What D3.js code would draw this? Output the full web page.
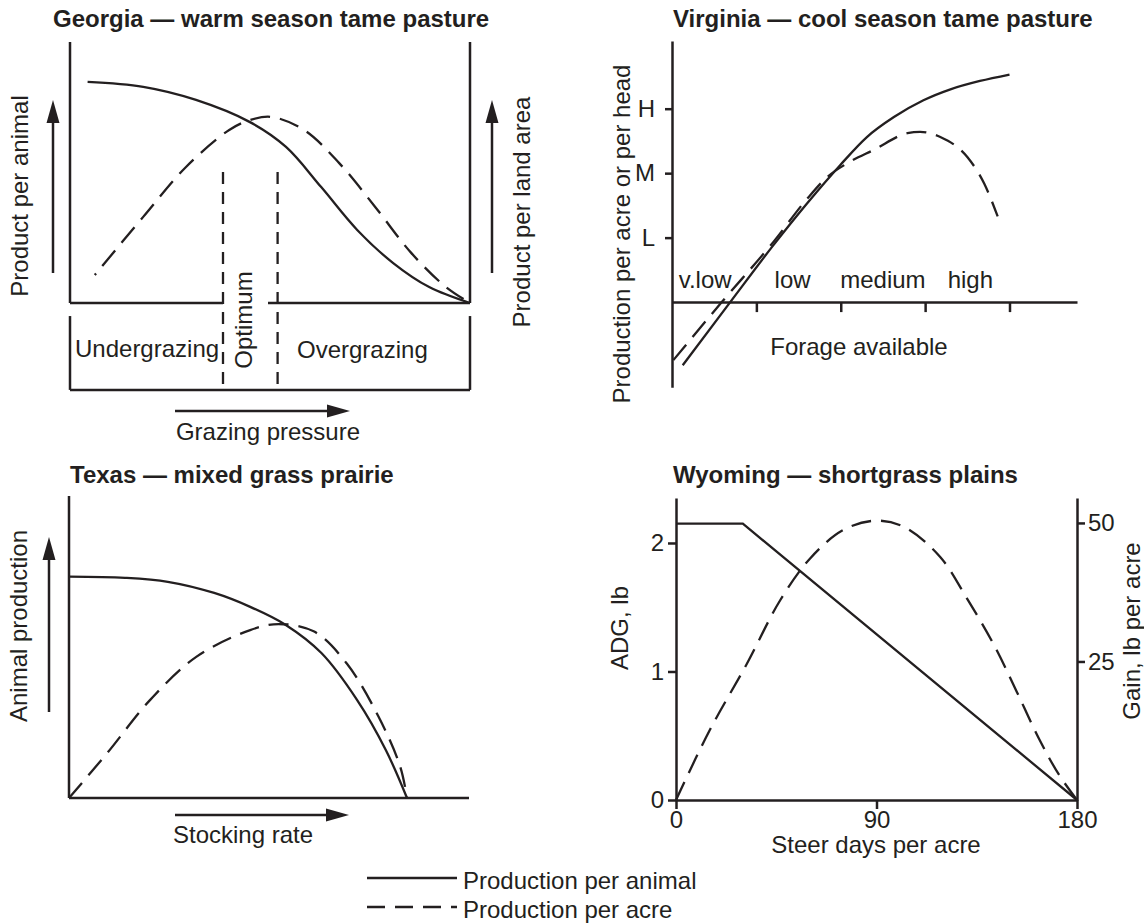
<!DOCTYPE html>
<html>
<head>
<meta charset="utf-8">
<script src="https://cdn.jsdelivr.net/npm/d3@7"></script>
<style>
  body { margin: 0; background: #fff; }
  text { font-family: "Liberation Sans", Arial, Helvetica, sans-serif; fill: #231f20; }
</style>
</head>
<body>
<div id="chart"></div>
<script>
// Four grazing-pressure response diagrams + a shared legend.

// ---- data ------------------------------------------------------------------
// Georgia: relative units 0..100 on both axes
const gaAnimalX = [4.4, 18.3, 31.5, 45, 54, 62.8, 71.8, 80.8, 89.8, 100]
const gaAnimalY = [84.7, 82.8, 77.8, 69.3, 59.8, 44.4, 28, 15.3, 6.1, 0]
const gaLandX   = [6.2, 18.3, 29, 39.8, 45, 50.3, 58.5, 67.3, 76.3, 85.3, 94, 100]
const gaLandY   = [10.7, 33, 52.1, 66.3, 70.1, 71.3, 66.3, 53.6, 36.8, 19.2, 6.1, 0]
const gaOptimum = [38.25, 51.9]         // edges of the optimum band
const gaZones   = ['Undergrazing', 'Optimum', 'Overgrazing']

// Virginia: forage classes 0..4, production levels L=1 M=2 H=3
const vaForageTicks = [1, 2, 3, 4]
const vaCategories  = ['v.low', 'low', 'medium', 'high']
const vaLevels      = ['L', 'M', 'H']
const vaHeadX = [0.127, 0.69, 1.2, 1.6, 1.99, 2.31, 2.63, 2.98, 3.3, 3.65, 4.0]
const vaHeadY = [-0.98, 0, 0.88, 1.53, 2.12, 2.56, 2.87, 3.13, 3.3, 3.43, 3.53]
const vaAcreX = [0.016, 0.59, 1.2, 1.6, 1.84, 2.1, 2.39, 2.79, 2.94, 3.18, 3.5, 3.7, 3.86]
const vaAcreY = [-0.9, 0, 0.93, 1.6, 1.94, 2.17, 2.36, 2.62, 2.64, 2.56, 2.25, 1.84, 1.33]

// Texas: relative units 0..100
const txAnimalX = [0, 14, 24.7, 36.3, 45.3, 54.2, 63.1, 72, 79.2, 84.5]
const txAnimalY = [73.3, 72.9, 71.6, 67.9, 63.3, 57.3, 48, 32.5, 15.9, 0]
const txAcreX   = [0, 9.5, 20.3, 31.9, 45.3, 52.4, 61.3, 69.4, 77.4, 82.8, 84.5]
const txAcreY   = [0, 14.8, 32.5, 46.8, 55.6, 57.6, 55.1, 44.6, 26.9, 10.4, 0]

// Wyoming: steer days per acre, ADG (lb) and gain (lb per acre)
const wyDayTicks  = [0, 90, 180]
const wyAdgTicks  = [0, 1, 2]
const wyGainTicks = [25, 50]
const wyAdgX  = [0, 30, 180]
const wyAdgY  = [2.15, 2.15, 0]
const wyGainX = [0, 15, 31.7, 46.7, 60, 75, 89.3, 102.3, 118.5, 131, 142.7, 153, 163, 172, 180]
const wyGainY = [0, 12.5, 24.5, 36, 43.5, 48.7, 50.4, 49.3, 43.9, 36.1, 28, 19.5, 11, 4.5, 0]

const legendLabels = ['Production per animal', 'Production per acre']

// ---- setup -----------------------------------------------------------------
const W = 1144, H = 923
const INK = '#231f20'
const FS = 24          // font size used for every label
const DASH = '20,10'   // dashed curve pattern

const svg = d3.select('#chart').append('svg').attr('width', W).attr('height', H)
svg.append('rect').attr('width', W).attr('height', H).attr('fill', '#fff')

function path(g, xs, ys, sx, sy, opt = {}) {
  const gen = d3.line().x(d => sx(d[0])).y(d => sy(d[1]))
    .curve(opt.curve || d3.curveCatmullRom.alpha(0.5))
  return g.append('path').attr('d', gen(d3.zip(xs, ys)))
    .attr('fill', 'none').attr('stroke', INK)
    .attr('stroke-width', opt.w || 2.3)
    .attr('stroke-dasharray', opt.dash || null)
    .attr('stroke-dashoffset', opt.offset || null)
}

function seg(g, x1, y1, x2, y2, w = 2.5, dash = null) {
  g.append('line').attr('x1', x1).attr('y1', y1).attr('x2', x2).attr('y2', y2)
    .attr('stroke', INK).attr('stroke-width', w).attr('stroke-dasharray', dash)
}

function txt(g, s, x, y, opt = {}) {
  const t = g.append('text').text(s).attr('font-size', opt.size || FS)
    .attr('text-anchor', opt.anchor || 'start')
    .attr('font-weight', opt.bold ? 'bold' : null)
  if (opt.rot) t.attr('transform', `translate(${x},${y}) rotate(-90)`)
  else t.attr('x', x).attr('y', y)
  return t
}

// arrow from (x1,y1) to tip (x2,y2)
function arrow(g, x1, y1, x2, y2) {
  const a = Math.atan2(y2 - y1, x2 - x1), L = 23, hw = 6.5
  const bx = x2 - L * Math.cos(a), by = y2 - L * Math.sin(a)
  seg(g, x1, y1, bx, by, 2.5)
  const px = -Math.sin(a) * hw, py = Math.cos(a) * hw
  g.append('path').attr('fill', INK)
    .attr('d', `M${x2},${y2}L${bx + px},${by + py}L${bx - px},${by - py}Z`)
}

function styleAxis(sel) {
  sel.selectAll('.domain').attr('stroke', INK).attr('stroke-width', 2.5)
  sel.selectAll('.tick line').attr('stroke', INK).attr('stroke-width', 2.5)
  sel.selectAll('.tick text').attr('font-size', FS).attr('fill', INK)
    .attr('font-family', '"Liberation Sans", Arial, sans-serif')
}

// ---- Georgia -----------------------------------------------------------------
{
  const g = svg.append('g')
  const x = d3.scaleLinear([0, 100], [70, 470])
  const y = d3.scaleLinear([0, 100], [303, 42])
  const boxTop = -5, boxBot = -33.3

  txt(g, 'Georgia — warm season tame pasture', 53, 27, {bold: true})

  seg(g, x(0), y(100), x(0), y(0))
  seg(g, x(100), y(100), x(100), y(0))
  seg(g, x(0), y(0), x(gaOptimum[0]), y(0))
  seg(g, x(gaOptimum[0]) + 45, y(0), x(100), y(0))

  seg(g, x(0), y(boxTop), x(0), y(boxBot))
  seg(g, x(0), y(boxBot), x(100), y(boxBot))
  seg(g, x(100), y(boxTop), x(100), y(boxBot))

  gaOptimum.forEach(v => seg(g, x(v), y(50.2), x(v), y(boxBot), 2.3, '12,8'))

  path(g, gaAnimalX, gaAnimalY, x, y)
  path(g, gaLandX, gaLandY, x, y, {dash: DASH, offset: 18})

  txt(g, gaZones[0], 75, 357)
  txt(g, gaZones[1], 252, 320, {rot: true, anchor: 'middle'})
  txt(g, gaZones[2], 297, 358)

  arrow(g, 53, 273, 53, 100)
  txt(g, 'Product per animal', 28, 196, {rot: true, anchor: 'middle'})
  arrow(g, 492, 273, 492, 100)
  txt(g, 'Product per land area', 530, 212, {rot: true, anchor: 'middle'})
  arrow(g, 175, 411, 350, 411)
  txt(g, 'Grazing pressure', 268, 440, {anchor: 'middle'})
}

// ---- Virginia ----------------------------------------------------------------
{
  const g = svg.append('g')
  const x = d3.scaleLinear([0, 4.8], [672, 1077])
  const y = d3.scaleLinear([-1.32, 4.05], [387.2, 41])
  const nudge = [-9, -6, 0, 3]   // label offsets within each forage class

  txt(g, 'Virginia — cool season tame pasture', 673, 27, {bold: true})

  g.append('g').attr('transform', `translate(${x(0)},0)`)
    .call(d3.axisLeft(y).tickValues([1, 2, 3]).tickFormat(d => vaLevels[d - 1])
      .tickSize(7).tickSizeOuter(0).tickPadding(10))
    .call(styleAxis)
  g.append('g').attr('transform', `translate(0,${y(0)})`)
    .call(d3.axisBottom(x).tickValues(vaForageTicks).tickFormat('')
      .tickSize(10).tickSizeOuter(0))
    .call(styleAxis)

  vaCategories.forEach((c, i) => txt(g, c, x(i + 0.5) + nudge[i], 288, {anchor: 'middle'}))
  txt(g, 'Forage available', 859, 355, {anchor: 'middle'})
  txt(g, 'Production per acre or per head', 630, 234, {rot: true, anchor: 'middle'})

  path(g, vaHeadX, vaHeadY, x, y, {curve: d3.curveMonotoneX})
  path(g, vaAcreX, vaAcreY, x, y, {curve: d3.curveMonotoneX, dash: DASH})
}

// ---- Texas -------------------------------------------------------------------
{
  const g = svg.append('g')
  const x = d3.scaleLinear([0, 100], [69, 469])
  const y = d3.scaleLinear([0, 100], [798, 496])

  txt(g, 'Texas — mixed grass prairie', 70, 483, {bold: true})
  seg(g, x(0), y(100), x(0), y(0))
  seg(g, x(0), y(0), x(100), y(0))

  path(g, txAnimalX, txAnimalY, x, y)
  path(g, txAcreX, txAcreY, x, y, {dash: DASH})

  arrow(g, 49, 712, 49, 537)
  txt(g, 'Animal production', 27, 626, {rot: true, anchor: 'middle'})
  arrow(g, 175, 815, 349, 815)
  txt(g, 'Stocking rate', 243, 843, {anchor: 'middle'})
}

// ---- Wyoming -----------------------------------------------------------------
{
  const g = svg.append('g')
  const x  = d3.scaleLinear([0, 180], [676, 1077])
  const yA = d3.scaleLinear([0, 2.35], [800, 498])
  const yG = d3.scaleLinear([0, 54.5], [800, 498])

  txt(g, 'Wyoming — shortgrass plains', 673, 483, {bold: true})

  g.append('g').attr('transform', `translate(${x(0)},0)`)
    .call(d3.axisLeft(yA).tickValues(wyAdgTicks).tickFormat(d3.format('d'))
      .tickSize(8).tickSizeOuter(0).tickPadding(4))
    .call(styleAxis)
  g.append('g').attr('transform', `translate(${x(180)},0)`)
    .call(d3.axisRight(yG).tickValues(wyGainTicks).tickFormat(d3.format('d'))
      .tickSize(8).tickSizeOuter(0).tickPadding(3))
    .call(styleAxis)
  g.append('g').attr('transform', `translate(0,${yA(0)})`)
    .call(d3.axisBottom(x).tickValues(wyDayTicks).tickFormat(d3.format('d'))
      .tickSize(9).tickSizeOuter(0).tickPadding(2))
    .call(styleAxis)

  path(g, wyAdgX, wyAdgY, x, yA, {curve: d3.curveLinear})
  path(g, wyGainX, wyGainY, x, yG, {dash: DASH})

  txt(g, 'ADG, lb', 628, 628, {rot: true, anchor: 'middle'})
  txt(g, 'Gain, lb per acre', 1140, 631, {rot: true, anchor: 'middle'})
  txt(g, 'Steer days per acre', 876, 853, {anchor: 'middle'})
}

// ---- legend ------------------------------------------------------------------
{
  const g = svg.append('g')
  const ly = d3.scalePoint(legendLabels, [878, 907])
  legendLabels.forEach((s, i) => {
    seg(g, 367, ly(s), 457, ly(s), 2.3, i ? '18,10' : null)
    txt(g, s, 463, ly(s) + 11)
  })
}
</script>
</body>
</html>
